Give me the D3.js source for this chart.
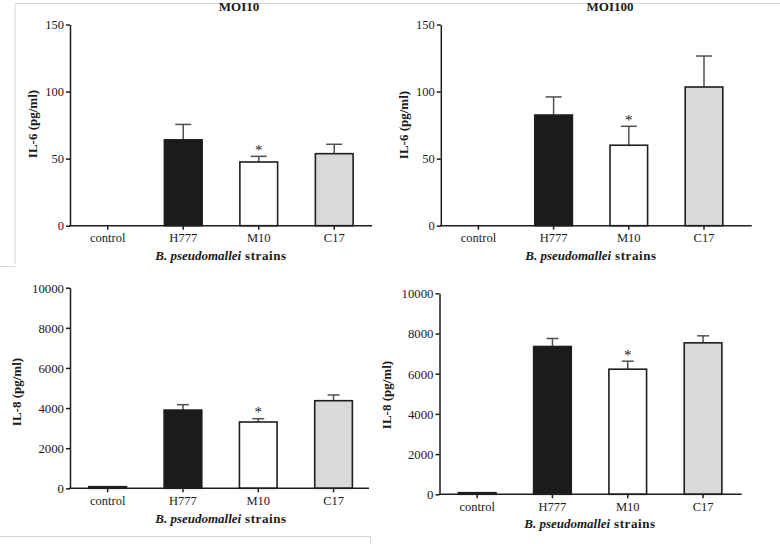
<!DOCTYPE html>
<html>
<head>
<meta charset="utf-8">
<script src="https://cdn.jsdelivr.net/npm/d3@7"></script>
<style>
  html, body { margin: 0; padding: 0; background: #fff; }
  svg { display: block; }
  text { font-family: "Liberation Serif", "Times New Roman", serif; fill: #1a1a1a; }
</style>
</head>
<body>
<svg id="chart" width="780" height="544"></svg>
<script>
// ---------- data ----------
const categories = ["control", "H777", "M10", "C17"];
const fills = ["#ffffff", "#1b1b1b", "#ffffff", "#d9d9d9"];

const il6Moi10 = [0, 64, 47.5, 53.7];
const il6Moi10Err = [0, 11.5, 4.2, 7.0];
const il6Moi100 = [0, 82.5, 60, 103.4];
const il6Moi100Err = [0, 13.5, 14.1, 23.1];
const il8Moi10 = [80, 3900, 3305, 4367];
const il8Moi10Err = [0, 268, 165, 284];
const il8Moi100 = [80, 7353, 6224, 7535];
const il8Moi100Err = [0, 398, 398, 349];

const il6Ticks = [0, 50, 100, 150];
const il8Ticks = [0, 2000, 4000, 6000, 8000, 10000];
const starCategory = "M10";

const panelTitles = ["MOI10", "MOI100", "", ""];
const yTitles = ["IL-6 (pg/ml)", "IL-6 (pg/ml)", "IL-8 (pg/ml)", "IL-8 (pg/ml)"];

// ---------- layout ----------
const svg = d3.select("#chart");

// faint frame lines of pasted panels
const frame = svg.append("g").attr("stroke", "#d8d8d8").attr("stroke-width", 1).attr("fill", "none");
frame.append("path").attr("d", "M15,264.5 L15,3.5 L780,3.5");
frame.append("path").attr("d", "M0,266.5 L15.5,266.5");
frame.append("path").attr("d", "M0,536.5 L370.5,536.5 L370.5,544");

const panels = [
  { values: il6Moi10, err: il6Moi10Err, ticks: il6Ticks, max: 150,
    left: 70, step: 75.5, axisEnd: 372, top: 24.5, bottom: 225.7,
    tickY: 242, xTitleY: 259.5, xTitleX: 221, yTitleX: 37, yTitleY: 124,
    titleX: 239, titleY: 11, cap: 16, tickFont: 12.5 },
  { values: il6Moi100, err: il6Moi100Err, ticks: il6Ticks, max: 150,
    left: 440.8, step: 75.2, axisEnd: 751.7, top: 24.5, bottom: 225.7,
    tickY: 242, xTitleY: 260, xTitleX: 591, yTitleX: 408, yTitleY: 125,
    titleX: 610, titleY: 11, cap: 16, tickFont: 12.5 },
  { values: il8Moi10, err: il8Moi10Err, ticks: il8Ticks, max: 10000,
    left: 70, step: 75.3, axisEnd: 369, top: 287.7, bottom: 488.3,
    tickY: 505.5, xTitleY: 523, xTitleX: 221, yTitleX: 21, yTitleY: 392,
    titleX: 0, titleY: 0, cap: 12, tickFont: 12.8 },
  { values: il8Moi100, err: il8Moi100Err, ticks: il8Ticks, max: 10000,
    left: 439.5, step: 75.3, axisEnd: 741.7, top: 293.3, bottom: 494.3,
    tickY: 511, xTitleY: 528, xTitleX: 590, yTitleX: 391, yTitleY: 395,
    titleX: 0, titleY: 0, cap: 12, tickFont: 12.8 }
];

panels.forEach((p, i) => {
  const g = svg.append("g");
  const x = d3.scaleBand()
    .domain(categories)
    .range([p.left, p.left + p.step * categories.length])
    .paddingInner(0.5)
    .paddingOuter(0.25);
  const y = d3.scaleLinear().domain([0, p.max]).range([p.bottom, p.top]);

  const rows = categories.map((c, k) => ({ c, v: p.values[k], e: p.err[k], f: fills[k] }));

  // error bars (upper only)
  const eb = g.append("g").attr("stroke", "#505050").attr("stroke-width", 1.5);
  rows.filter(d => d.e > 0).forEach(d => {
    const cx = x(d.c) + x.bandwidth() / 2;
    eb.append("line").attr("x1", cx).attr("x2", cx).attr("y1", y(d.v)).attr("y2", y(d.v + d.e));
    eb.append("line").attr("x1", cx - p.cap / 2).attr("x2", cx + p.cap / 2)
      .attr("y1", y(d.v + d.e)).attr("y2", y(d.v + d.e));
  });

  // bars
  g.append("g").selectAll("rect")
    .data(rows.filter(d => d.v > 0))
    .join("rect")
    .attr("x", d => x(d.c))
    .attr("y", d => y(d.v))
    .attr("width", x.bandwidth())
    .attr("height", d => y(0) - y(d.v))
    .attr("fill", d => d.f)
    .attr("stroke", "#1e1e1e")
    .attr("stroke-width", 1.6);

  // significance star
  const s = rows.find(d => d.c === starCategory);
  g.append("text")
    .attr("x", x(s.c) + x.bandwidth() / 2)
    .attr("y", y(s.v + s.e) - 1.5)
    .attr("text-anchor", "middle")
    .attr("font-size", 15)
    .text("*");

  // y axis
  const ya = g.append("g")
    .attr("transform", `translate(${p.left},0)`)
    .call(d3.axisLeft(y).tickValues(p.ticks).tickSize(4).tickSizeOuter(0).tickPadding(2).tickFormat(d3.format("d")));
  ya.selectAll("path, line").attr("stroke", "#1e1e1e").attr("stroke-width", 1.5);
  ya.selectAll("text").attr("font-size", p.tickFont).attr("fill", "#2a2a2a")
    .attr("font-family", "Liberation Serif, serif").attr("dy", "0.34em");

  // x axis
  const xa = g.append("g")
    .attr("transform", `translate(0,${p.bottom})`)
    .call(d3.axisBottom(x).tickSize(4).tickSizeOuter(0).tickPadding(0));
  xa.select(".domain").remove();
  xa.selectAll("line").attr("stroke", "#1e1e1e").attr("stroke-width", 1.5);
  xa.selectAll("text").attr("font-size", 12.5).attr("fill", "#2a2a2a")
    .attr("font-family", "Liberation Serif, serif")
    .attr("y", p.tickY - p.bottom).attr("dy", 0);
  g.append("line")
    .attr("x1", p.left - 0.75).attr("x2", p.axisEnd)
    .attr("y1", p.bottom).attr("y2", p.bottom)
    .attr("stroke", "#1e1e1e").attr("stroke-width", 1.5);

  // x title
  const xt = g.append("text")
    .attr("x", p.xTitleX).attr("y", p.xTitleY)
    .attr("text-anchor", "middle")
    .attr("font-size", 13).attr("font-weight", "bold");
  xt.append("tspan").attr("font-style", "italic").text("B. pseudomallei");
  xt.append("tspan").attr("letter-spacing", "0.6").text(" strains");

  // y title
  g.append("text")
    .attr("transform", `translate(${p.yTitleX},${p.yTitleY}) rotate(-90)`)
    .attr("text-anchor", "middle")
    .attr("font-size", 13).attr("font-weight", "bold")
    .text(yTitles[i]);

  // panel title
  if (panelTitles[i]) {
    g.append("text")
      .attr("x", p.titleX).attr("y", p.titleY)
      .attr("text-anchor", "middle")
      .attr("font-size", 13).attr("font-weight", "bold")
      .text(panelTitles[i]);
  }
});
</script>
</body>
</html>
